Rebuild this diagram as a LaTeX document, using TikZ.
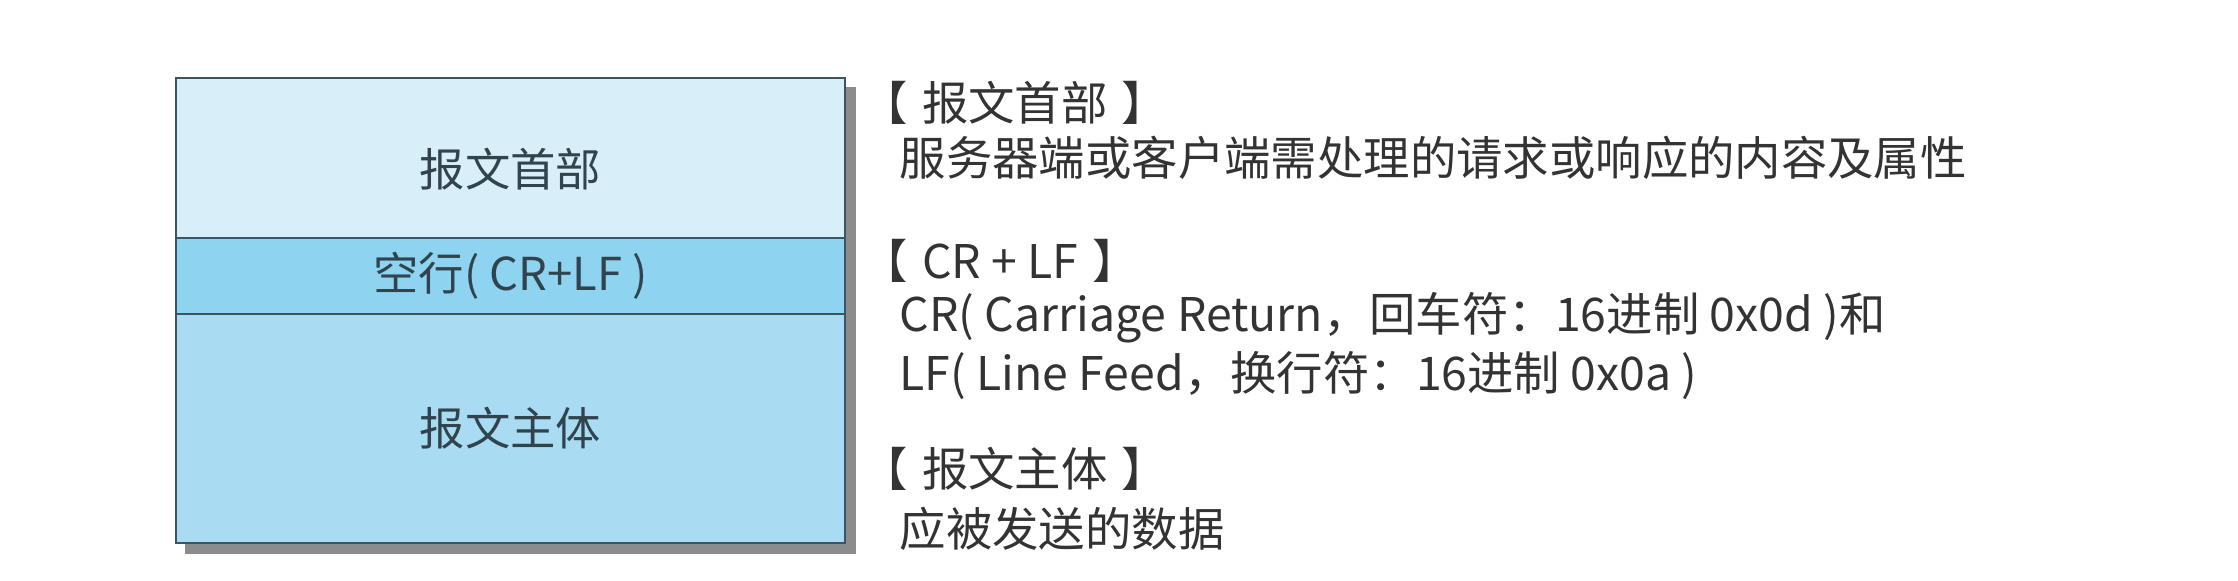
\documentclass[tikz,border=0pt]{standalone}
\usepackage{fontspec}
\setmainfont{Noto Sans CJK SC}
\usepackage{xcolor}
\usetikzlibrary{calc}

\definecolor{hdrblue}{HTML}{D8EEF8}
\definecolor{crlfblue}{HTML}{8ED3EF}
\definecolor{bodyblue}{HTML}{A9DCF2}
\definecolor{edgegray}{HTML}{3D5560}
\definecolor{shadegray}{HTML}{8A8C8E}
\definecolor{inkgray}{HTML}{333333}

\newcommand{\bracketed}[1]{【\hspace{0.3em}#1\hspace{0.3em}】}

\begin{document}
\begin{tikzpicture}[
    part/.style={draw=edgegray,line width=0.8pt,minimum width=6.69cm,
        inner sep=0pt,font=\fontsize{12.9pt}{15pt}\selectfont,text=edgegray!80!black},
    heading/.style={anchor=west,inner sep=0pt,font=\fontsize{13.2pt}{15pt}\selectfont,text=inkgray},
    note/.style={anchor=west,inner sep=0pt,font=\fontsize{13.2pt}{15pt}\selectfont,text=inkgray}
]
    \useasboundingbox (0,0) rectangle (22.38,5.80);

    \node[part,fill=hdrblue,minimum height=1.60cm,text height=0.62cm,text depth=0.055cm] (header) at (5.105,4.22) {报文首部};
    \node[part,fill=crlfblue,minimum height=0.76cm] (crlf) at (5.105,3.04) {空行( CR+LF )};
    \node[part,fill=bodyblue,minimum height=2.29cm] (body) at (5.105,1.515) {报文主体};
    \fill[shadegray] ($(header.north east)+(0,-0.1)$) rectangle ($(body.south east)+(0.1,-0.1)$);
    \fill[shadegray] ($(body.south west)+(0.1,0)$) rectangle ($(body.south east)+(0.1,-0.1)$);

    \node[heading] (hdrtitle) at (8.61,4.77) {\bracketed{报文首部}};
    \node[note] (hdrtext) at (8.99,4.22) {服务器端或客户端需处理的请求或响应的内容及属性};
    \node[heading] (crlftitle) at (8.61,3.19) {\bracketed{CR + LF}};
    \node[note] (crtext) at (8.99,2.62) {CR( Carriage Return，回车符：16进制 0x0d )和};
    \node[note] (lftext) at (8.99,2.05) {LF( Line Feed，换行符：16进制 0x0a )};
    \node[heading] (bodytitle) at (8.61,1.11) {\bracketed{报文主体}};
    \node[note] (bodytext) at (8.99,0.51) {应被发送的数据};
\end{tikzpicture}
\end{document}
